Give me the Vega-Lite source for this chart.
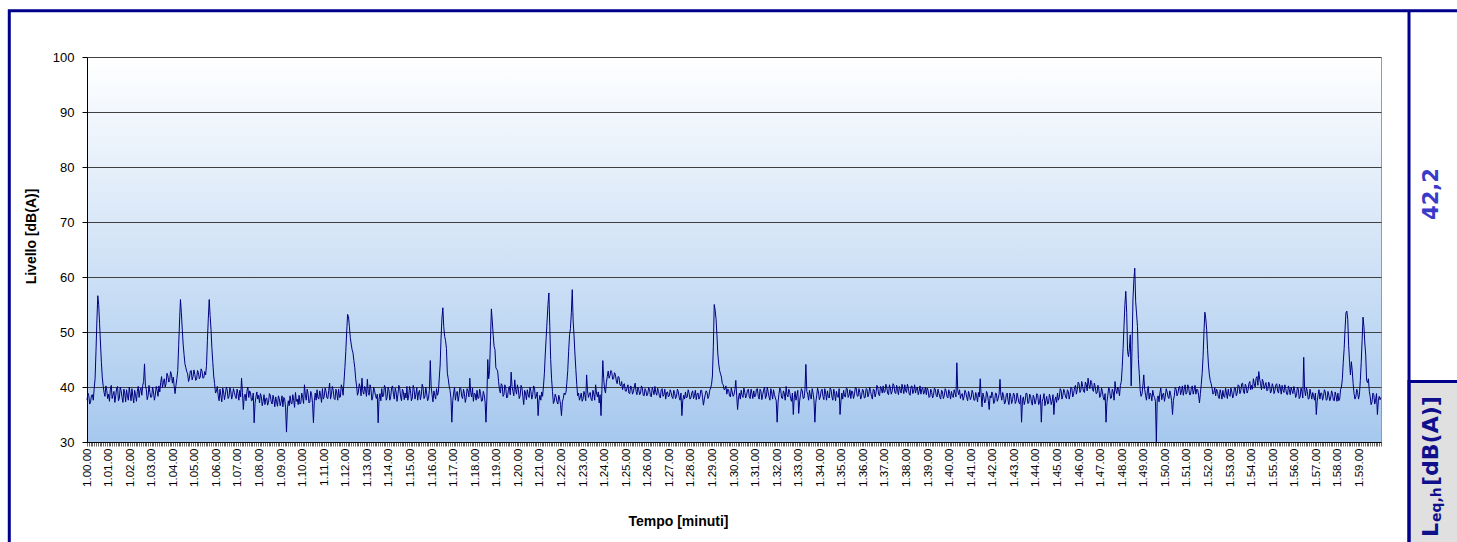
{
"$schema": "https://vega.github.io/schema/vega-lite/v6.json",
"width": 1294,
"height": 385,
"autosize": {"type": "none"},
"padding": {"left": 87, "top": 57, "right": 76, "bottom": 100},
"background": "#ffffff",
"config": {
  "font": "Liberation Sans",
  "view": {"stroke": "#9a9a9a", "strokeWidth": 1, "fill": {"gradient": "linear", "x1": 0, "y1": 0, "x2": 0, "y2": 1, "stops": [{"offset": 0, "color": "#ffffff"}, {"offset": 1, "color": "#a6c8ee"}]}}
},
"layer": [
{
"data": {"values": [
{"t":0,"v":37.6},{"t":5,"v":38.4},{"t":10,"v":37.3},{"t":15,"v":38.6},{"t":20,"v":39.8},{"t":25,"v":46.5},{"t":30,"v":56.6},{"t":35,"v":51.5},{"t":40,"v":44.5},{"t":45,"v":40.2},{"t":50,"v":38.3},{"t":55,"v":39.4},
{"t":60,"v":38.7},{"t":65,"v":39.6},{"t":70,"v":37.9},{"t":75,"v":39.2},{"t":80,"v":38.4},{"t":85,"v":40.1},{"t":90,"v":38.0},{"t":95,"v":39.3},{"t":100,"v":37.2},{"t":105,"v":38.9},{"t":110,"v":39.5},{"t":115,"v":37.6},
{"t":120,"v":38.8},{"t":125,"v":39.7},{"t":130,"v":37.1},{"t":135,"v":38.6},{"t":140,"v":39.2},{"t":145,"v":38.1},{"t":150,"v":39.8},{"t":155,"v":40.3},{"t":160,"v":44.2},{"t":165,"v":39.6},{"t":170,"v":38.4},{"t":175,"v":39.0},
{"t":180,"v":38.2},{"t":185,"v":39.1},{"t":190,"v":38.5},{"t":195,"v":39.4},{"t":200,"v":40.2},{"t":205,"v":40.8},{"t":210,"v":39.9},{"t":215,"v":41.5},{"t":220,"v":40.6},{"t":225,"v":42.0},{"t":230,"v":41.2},{"t":235,"v":42.3},
{"t":240,"v":41.8},{"t":245,"v":38.8},{"t":250,"v":41.5},{"t":255,"v":47.5},{"t":260,"v":55.9},{"t":265,"v":50.5},{"t":270,"v":45.9},{"t":275,"v":43.5},{"t":280,"v":42.4},{"t":285,"v":41.6},{"t":290,"v":43.0},{"t":295,"v":41.9},
{"t":300,"v":42.3},{"t":305,"v":41.4},{"t":310,"v":42.6},{"t":315,"v":41.8},{"t":320,"v":42.9},{"t":325,"v":41.7},{"t":330,"v":42.2},{"t":335,"v":48.5},{"t":340,"v":55.9},{"t":345,"v":50.5},{"t":350,"v":44.5},{"t":355,"v":40.6},
{"t":360,"v":39.2},{"t":365,"v":38.4},{"t":370,"v":39.6},{"t":375,"v":37.3},{"t":380,"v":39.1},{"t":385,"v":38.7},{"t":390,"v":39.5},{"t":395,"v":38.2},{"t":400,"v":39.3},{"t":405,"v":38.6},{"t":410,"v":39.0},{"t":415,"v":37.9},
{"t":420,"v":38.8},{"t":425,"v":39.4},{"t":430,"v":41.6},{"t":435,"v":35.9},{"t":440,"v":38.7},{"t":445,"v":39.2},{"t":450,"v":38.1},{"t":455,"v":38.9},{"t":460,"v":37.6},{"t":465,"v":33.5},{"t":470,"v":38.2},{"t":475,"v":37.8},
{"t":480,"v":37.1},{"t":485,"v":38.3},{"t":490,"v":37.4},{"t":495,"v":36.8},{"t":500,"v":38.0},{"t":505,"v":37.2},{"t":510,"v":38.5},{"t":515,"v":36.9},{"t":520,"v":37.7},{"t":525,"v":38.2},{"t":530,"v":36.5},{"t":535,"v":37.9},
{"t":540,"v":37.3},{"t":545,"v":36.4},{"t":550,"v":37.8},{"t":555,"v":31.8},{"t":560,"v":37.5},{"t":565,"v":38.4},{"t":570,"v":36.9},{"t":575,"v":37.6},{"t":580,"v":39.0},{"t":585,"v":37.8},{"t":590,"v":38.5},{"t":595,"v":37.2},
{"t":600,"v":38.1},{"t":605,"v":40.4},{"t":610,"v":37.6},{"t":615,"v":38.8},{"t":620,"v":37.3},{"t":625,"v":38.6},{"t":630,"v":33.5},{"t":635,"v":38.9},{"t":640,"v":39.5},{"t":645,"v":37.8},{"t":650,"v":38.4},{"t":655,"v":39.7},
{"t":660,"v":38.3},{"t":665,"v":39.2},{"t":670,"v":37.9},{"t":675,"v":40.7},{"t":680,"v":38.6},{"t":685,"v":39.4},{"t":690,"v":37.7},{"t":695,"v":38.9},{"t":700,"v":39.6},{"t":705,"v":38.2},{"t":710,"v":39.8},{"t":715,"v":41.0},
{"t":720,"v":46.5},{"t":725,"v":53.2},{"t":730,"v":51.0},{"t":735,"v":47.8},{"t":740,"v":46.2},{"t":745,"v":43.5},{"t":750,"v":40.2},{"t":755,"v":39.1},{"t":760,"v":40.0},{"t":765,"v":41.6},{"t":770,"v":38.7},{"t":775,"v":39.5},
{"t":780,"v":41.4},{"t":785,"v":38.5},{"t":790,"v":39.6},{"t":795,"v":38.2},{"t":800,"v":39.3},{"t":805,"v":37.9},{"t":810,"v":33.5},{"t":815,"v":38.8},{"t":820,"v":39.7},{"t":825,"v":38.4},{"t":830,"v":39.9},{"t":835,"v":38.1},
{"t":840,"v":39.5},{"t":845,"v":38.3},{"t":850,"v":40.2},{"t":855,"v":37.8},{"t":860,"v":39.1},{"t":865,"v":38.6},{"t":870,"v":39.8},{"t":875,"v":37.5},{"t":880,"v":39.2},{"t":885,"v":38.9},{"t":890,"v":40.1},{"t":895,"v":38.4},
{"t":900,"v":39.3},{"t":905,"v":38.0},{"t":910,"v":39.6},{"t":915,"v":38.7},{"t":920,"v":37.6},{"t":925,"v":39.4},{"t":930,"v":38.5},{"t":935,"v":39.9},{"t":940,"v":38.2},{"t":945,"v":38.9},{"t":950,"v":37.9},{"t":955,"v":44.8},
{"t":960,"v":38.6},{"t":965,"v":39.3},{"t":970,"v":37.8},{"t":975,"v":38.5},{"t":980,"v":41.6},{"t":985,"v":48.9},{"t":990,"v":54.4},{"t":995,"v":49.2},{"t":1000,"v":47.0},{"t":1005,"v":41.5},{"t":1010,"v":39.4},{"t":1015,"v":33.6},
{"t":1020,"v":38.9},{"t":1025,"v":37.6},{"t":1030,"v":39.2},{"t":1035,"v":38.4},{"t":1040,"v":39.7},{"t":1045,"v":37.9},{"t":1050,"v":38.8},{"t":1055,"v":38.1},{"t":1060,"v":39.3},{"t":1065,"v":41.6},{"t":1070,"v":38.2},{"t":1075,"v":37.4},
{"t":1080,"v":38.7},{"t":1085,"v":39.4},{"t":1090,"v":38.0},{"t":1095,"v":38.8},{"t":1100,"v":37.5},{"t":1105,"v":38.6},{"t":1110,"v":33.6},{"t":1115,"v":45.0},{"t":1120,"v":43.0},{"t":1125,"v":54.2},{"t":1130,"v":49.5},{"t":1135,"v":46.8},
{"t":1140,"v":43.2},{"t":1145,"v":41.0},{"t":1150,"v":38.9},{"t":1155,"v":40.3},{"t":1160,"v":38.6},{"t":1165,"v":39.8},{"t":1170,"v":38.2},{"t":1175,"v":40.1},{"t":1180,"v":42.7},{"t":1185,"v":39.2},{"t":1190,"v":41.3},{"t":1195,"v":38.7},
{"t":1200,"v":39.6},{"t":1205,"v":38.4},{"t":1210,"v":39.9},{"t":1215,"v":36.8},{"t":1220,"v":38.9},{"t":1225,"v":39.5},{"t":1230,"v":38.1},{"t":1235,"v":39.2},{"t":1240,"v":38.6},{"t":1245,"v":39.8},{"t":1250,"v":38.3},{"t":1255,"v":34.8},
{"t":1260,"v":38.5},{"t":1265,"v":39.1},{"t":1270,"v":40.2},{"t":1275,"v":46.0},{"t":1280,"v":52.0},{"t":1285,"v":57.1},{"t":1290,"v":45.0},{"t":1295,"v":39.2},{"t":1300,"v":37.4},{"t":1305,"v":38.2},{"t":1310,"v":36.9},{"t":1315,"v":37.8},
{"t":1320,"v":34.8},{"t":1325,"v":37.9},{"t":1330,"v":38.6},{"t":1335,"v":40.8},{"t":1340,"v":46.5},{"t":1345,"v":50.6},{"t":1350,"v":57.7},{"t":1355,"v":49.3},{"t":1360,"v":43.2},{"t":1365,"v":38.4},{"t":1370,"v":37.6},{"t":1375,"v":38.9},
{"t":1380,"v":37.8},{"t":1385,"v":38.6},{"t":1390,"v":42.2},{"t":1395,"v":38.1},{"t":1400,"v":39.0},{"t":1405,"v":37.5},{"t":1410,"v":38.7},{"t":1415,"v":40.4},{"t":1420,"v":38.2},{"t":1425,"v":37.1},{"t":1430,"v":34.8},{"t":1435,"v":44.8},
{"t":1440,"v":39.6},{"t":1445,"v":40.8},{"t":1450,"v":42.9},{"t":1455,"v":42.1},{"t":1460,"v":42.6},{"t":1465,"v":41.5},{"t":1470,"v":42.3},{"t":1475,"v":40.6},{"t":1480,"v":41.8},{"t":1485,"v":40.2},{"t":1490,"v":39.5},{"t":1495,"v":40.6},
{"t":1500,"v":39.2},{"t":1505,"v":40.4},{"t":1510,"v":38.8},{"t":1515,"v":39.9},{"t":1520,"v":39.1},{"t":1525,"v":40.7},{"t":1530,"v":38.6},{"t":1535,"v":39.5},{"t":1540,"v":38.9},{"t":1545,"v":39.8},{"t":1550,"v":38.4},{"t":1555,"v":39.3},
{"t":1560,"v":38.7},{"t":1565,"v":39.6},{"t":1570,"v":38.2},{"t":1575,"v":39.4},{"t":1580,"v":40.1},{"t":1585,"v":38.5},{"t":1590,"v":39.2},{"t":1595,"v":38.0},{"t":1600,"v":39.7},{"t":1605,"v":38.6},{"t":1610,"v":37.8},{"t":1615,"v":39.1},
{"t":1620,"v":38.4},{"t":1625,"v":39.0},{"t":1630,"v":37.9},{"t":1635,"v":38.8},{"t":1640,"v":38.3},{"t":1645,"v":39.2},{"t":1650,"v":37.6},{"t":1655,"v":34.8},{"t":1660,"v":38.5},{"t":1665,"v":39.1},{"t":1670,"v":38.2},{"t":1675,"v":38.9},
{"t":1680,"v":38.0},{"t":1685,"v":39.3},{"t":1690,"v":38.5},{"t":1695,"v":37.7},{"t":1700,"v":38.9},{"t":1705,"v":38.2},{"t":1710,"v":39.4},{"t":1715,"v":36.7},{"t":1720,"v":38.6},{"t":1725,"v":39.0},{"t":1730,"v":38.3},{"t":1735,"v":39.8},
{"t":1740,"v":42.0},{"t":1745,"v":55.0},{"t":1750,"v":52.4},{"t":1755,"v":46.0},{"t":1760,"v":43.0},{"t":1765,"v":41.8},{"t":1770,"v":40.4},{"t":1775,"v":39.6},{"t":1780,"v":38.7},{"t":1785,"v":39.5},{"t":1790,"v":38.2},{"t":1795,"v":39.1},
{"t":1800,"v":38.6},{"t":1805,"v":41.2},{"t":1810,"v":35.9},{"t":1815,"v":38.9},{"t":1820,"v":39.4},{"t":1825,"v":38.1},{"t":1830,"v":39.0},{"t":1835,"v":38.5},{"t":1840,"v":39.6},{"t":1845,"v":37.9},{"t":1850,"v":38.8},{"t":1855,"v":39.3},
{"t":1860,"v":38.4},{"t":1865,"v":39.7},{"t":1870,"v":37.8},{"t":1875,"v":39.2},{"t":1880,"v":38.6},{"t":1885,"v":40.0},{"t":1890,"v":38.3},{"t":1895,"v":39.1},{"t":1900,"v":37.6},{"t":1905,"v":38.9},{"t":1910,"v":39.5},{"t":1915,"v":38.0},
{"t":1920,"v":33.6},{"t":1925,"v":38.7},{"t":1930,"v":39.4},{"t":1935,"v":37.9},{"t":1940,"v":38.8},{"t":1945,"v":40.1},{"t":1950,"v":38.2},{"t":1955,"v":39.0},{"t":1960,"v":37.4},{"t":1965,"v":35.0},{"t":1970,"v":39.2},{"t":1975,"v":38.5},
{"t":1980,"v":35.2},{"t":1985,"v":38.6},{"t":1990,"v":39.3},{"t":1995,"v":38.0},{"t":2000,"v":44.1},{"t":2005,"v":38.7},{"t":2010,"v":39.4},{"t":2015,"v":37.8},{"t":2020,"v":38.9},{"t":2025,"v":33.6},{"t":2030,"v":38.4},{"t":2035,"v":39.1},
{"t":2040,"v":38.2},{"t":2045,"v":39.6},{"t":2050,"v":37.7},{"t":2055,"v":38.9},{"t":2060,"v":39.3},{"t":2065,"v":38.0},{"t":2070,"v":39.5},{"t":2075,"v":37.6},{"t":2080,"v":38.8},{"t":2085,"v":39.2},{"t":2090,"v":38.1},{"t":2095,"v":35.0},
{"t":2100,"v":38.9},{"t":2105,"v":39.4},{"t":2110,"v":38.2},{"t":2115,"v":39.7},{"t":2120,"v":38.5},{"t":2125,"v":37.9},{"t":2130,"v":39.1},{"t":2135,"v":38.6},{"t":2140,"v":39.8},{"t":2145,"v":38.3},{"t":2150,"v":39.0},{"t":2155,"v":38.4},
{"t":2160,"v":39.3},{"t":2165,"v":38.1},{"t":2170,"v":39.6},{"t":2175,"v":38.7},{"t":2180,"v":39.2},{"t":2185,"v":37.8},{"t":2190,"v":39.5},{"t":2195,"v":38.9},{"t":2200,"v":39.9},{"t":2205,"v":38.4},{"t":2210,"v":39.7},{"t":2215,"v":40.2},
{"t":2220,"v":39.1},{"t":2225,"v":40.0},{"t":2230,"v":38.6},{"t":2235,"v":39.8},{"t":2240,"v":39.2},{"t":2245,"v":40.3},{"t":2250,"v":38.8},{"t":2255,"v":39.5},{"t":2260,"v":40.1},{"t":2265,"v":38.9},{"t":2270,"v":39.6},{"t":2275,"v":40.4},
{"t":2280,"v":39.0},{"t":2285,"v":39.8},{"t":2290,"v":38.5},{"t":2295,"v":40.2},{"t":2300,"v":39.3},{"t":2305,"v":38.9},{"t":2310,"v":40.0},{"t":2315,"v":39.2},{"t":2320,"v":38.7},{"t":2325,"v":39.9},{"t":2330,"v":39.1},{"t":2335,"v":38.6},
{"t":2340,"v":39.4},{"t":2345,"v":38.3},{"t":2350,"v":39.0},{"t":2355,"v":38.5},{"t":2360,"v":39.6},{"t":2365,"v":38.2},{"t":2370,"v":38.9},{"t":2375,"v":37.8},{"t":2380,"v":39.1},{"t":2385,"v":38.4},{"t":2390,"v":39.3},{"t":2395,"v":38.0},
{"t":2400,"v":38.8},{"t":2405,"v":39.2},{"t":2410,"v":38.1},{"t":2415,"v":38.9},{"t":2420,"v":44.4},{"t":2425,"v":38.6},{"t":2430,"v":37.9},{"t":2435,"v":38.8},{"t":2440,"v":38.2},{"t":2445,"v":39.0},{"t":2450,"v":37.5},{"t":2455,"v":38.6},
{"t":2460,"v":38.1},{"t":2465,"v":38.9},{"t":2470,"v":37.6},{"t":2475,"v":38.4},{"t":2480,"v":39.0},{"t":2485,"v":41.5},{"t":2490,"v":36.4},{"t":2495,"v":38.2},{"t":2500,"v":37.4},{"t":2505,"v":38.7},{"t":2510,"v":35.9},{"t":2515,"v":38.0},
{"t":2520,"v":38.5},{"t":2525,"v":37.3},{"t":2530,"v":38.8},{"t":2535,"v":37.9},{"t":2540,"v":41.4},{"t":2545,"v":37.6},{"t":2550,"v":38.4},{"t":2555,"v":37.2},{"t":2560,"v":38.9},{"t":2565,"v":36.8},{"t":2570,"v":38.3},{"t":2575,"v":37.7},
{"t":2580,"v":38.6},{"t":2585,"v":37.4},{"t":2590,"v":38.1},{"t":2595,"v":36.9},{"t":2600,"v":33.6},{"t":2605,"v":38.2},{"t":2610,"v":37.5},{"t":2615,"v":38.8},{"t":2620,"v":37.1},{"t":2625,"v":38.4},{"t":2630,"v":36.7},{"t":2635,"v":38.0},
{"t":2640,"v":37.6},{"t":2645,"v":38.5},{"t":2650,"v":37.2},{"t":2655,"v":33.6},{"t":2660,"v":37.9},{"t":2665,"v":36.6},{"t":2670,"v":38.3},{"t":2675,"v":37.0},{"t":2680,"v":38.1},{"t":2685,"v":37.4},{"t":2690,"v":35.0},{"t":2695,"v":38.2},
{"t":2700,"v":38.9},{"t":2705,"v":38.1},{"t":2710,"v":39.4},{"t":2715,"v":38.5},{"t":2720,"v":39.0},{"t":2725,"v":37.9},{"t":2730,"v":39.2},{"t":2735,"v":38.6},{"t":2740,"v":39.7},{"t":2745,"v":38.8},{"t":2750,"v":40.3},{"t":2755,"v":39.5},
{"t":2760,"v":40.6},{"t":2765,"v":39.4},{"t":2770,"v":40.1},{"t":2775,"v":39.0},{"t":2780,"v":40.5},{"t":2785,"v":41.6},{"t":2790,"v":39.7},{"t":2795,"v":40.8},{"t":2800,"v":39.2},{"t":2805,"v":40.0},{"t":2810,"v":38.9},{"t":2815,"v":39.6},
{"t":2820,"v":38.4},{"t":2825,"v":39.2},{"t":2830,"v":37.6},{"t":2835,"v":33.6},{"t":2840,"v":38.5},{"t":2845,"v":39.4},{"t":2850,"v":38.0},{"t":2855,"v":39.1},{"t":2860,"v":41.0},{"t":2865,"v":38.8},{"t":2870,"v":39.5},{"t":2875,"v":40.3},
{"t":2880,"v":43.5},{"t":2885,"v":51.0},{"t":2890,"v":57.4},{"t":2895,"v":46.5},{"t":2900,"v":47.0},{"t":2905,"v":40.2},{"t":2910,"v":56.0},{"t":2915,"v":61.6},{"t":2920,"v":53.3},{"t":2925,"v":45.0},{"t":2930,"v":39.4},{"t":2935,"v":38.7},
{"t":2940,"v":42.2},{"t":2945,"v":38.5},{"t":2950,"v":39.3},{"t":2955,"v":37.8},{"t":2960,"v":38.6},{"t":2965,"v":39.4},{"t":2970,"v":38.1},{"t":2975,"v":30.0},{"t":2980,"v":38.4},{"t":2985,"v":39.0},{"t":2990,"v":37.7},{"t":2995,"v":38.9},
{"t":3000,"v":38.3},{"t":3005,"v":39.1},{"t":3010,"v":37.9},{"t":3015,"v":38.6},{"t":3020,"v":35.0},{"t":3025,"v":38.4},{"t":3030,"v":39.6},{"t":3035,"v":38.8},{"t":3040,"v":40.1},{"t":3045,"v":39.3},{"t":3050,"v":38.5},{"t":3055,"v":40.4},
{"t":3060,"v":39.0},{"t":3065,"v":39.8},{"t":3070,"v":38.6},{"t":3075,"v":40.2},{"t":3080,"v":39.4},{"t":3085,"v":38.7},{"t":3090,"v":39.5},{"t":3095,"v":37.1},{"t":3100,"v":40.5},{"t":3105,"v":45.5},{"t":3110,"v":53.6},{"t":3115,"v":50.4},
{"t":3120,"v":44.0},{"t":3125,"v":41.2},{"t":3130,"v":39.8},{"t":3135,"v":39.0},{"t":3140,"v":38.4},{"t":3145,"v":39.2},{"t":3150,"v":37.9},{"t":3155,"v":38.8},{"t":3160,"v":39.4},{"t":3165,"v":38.1},{"t":3170,"v":38.9},{"t":3175,"v":39.6},
{"t":3180,"v":38.3},{"t":3185,"v":39.1},{"t":3190,"v":38.6},{"t":3195,"v":39.8},{"t":3200,"v":38.9},{"t":3205,"v":40.2},{"t":3210,"v":39.3},{"t":3215,"v":40.7},{"t":3220,"v":38.8},{"t":3225,"v":40.1},{"t":3230,"v":39.4},{"t":3235,"v":41.0},
{"t":3240,"v":40.3},{"t":3245,"v":41.5},{"t":3250,"v":40.0},{"t":3255,"v":41.9},{"t":3260,"v":42.8},{"t":3265,"v":40.6},{"t":3270,"v":41.4},{"t":3275,"v":39.7},{"t":3280,"v":40.8},{"t":3285,"v":39.5},{"t":3290,"v":40.4},{"t":3295,"v":39.2},
{"t":3300,"v":40.1},{"t":3305,"v":39.4},{"t":3310,"v":40.6},{"t":3315,"v":38.9},{"t":3320,"v":39.8},{"t":3325,"v":40.3},{"t":3330,"v":39.0},{"t":3335,"v":39.7},{"t":3340,"v":38.6},{"t":3345,"v":39.5},{"t":3350,"v":40.0},{"t":3355,"v":38.8},
{"t":3360,"v":39.3},{"t":3365,"v":38.5},{"t":3370,"v":39.6},{"t":3375,"v":38.2},{"t":3380,"v":39.1},{"t":3385,"v":45.4},{"t":3390,"v":38.4},{"t":3395,"v":39.2},{"t":3400,"v":37.9},{"t":3405,"v":38.7},{"t":3410,"v":39.0},{"t":3415,"v":37.6},
{"t":3420,"v":35.0},{"t":3425,"v":38.6},{"t":3430,"v":37.8},{"t":3435,"v":38.9},{"t":3440,"v":38.3},{"t":3445,"v":39.1},{"t":3450,"v":37.7},{"t":3455,"v":38.5},{"t":3460,"v":38.0},{"t":3465,"v":38.8},{"t":3470,"v":37.5},{"t":3475,"v":38.4},
{"t":3480,"v":38.9},{"t":3485,"v":37.8},{"t":3490,"v":40.0},{"t":3495,"v":44.5},{"t":3500,"v":50.5},{"t":3505,"v":53.8},{"t":3510,"v":47.5},{"t":3515,"v":42.2},{"t":3520,"v":43.0},{"t":3525,"v":38.8},{"t":3530,"v":38.2},{"t":3535,"v":39.0},
{"t":3540,"v":38.6},{"t":3545,"v":44.5},{"t":3550,"v":52.7},{"t":3555,"v":48.0},{"t":3560,"v":41.2},{"t":3565,"v":41.5},{"t":3570,"v":38.2},{"t":3575,"v":37.3},{"t":3580,"v":38.6},{"t":3585,"v":37.6},{"t":3590,"v":35.0},{"t":3595,"v":38.3},
{"t":3600,"v":38.1},
{"t":2.5,"v":38.9},{"t":7.5,"v":36.9},{"t":12.5,"v":38.5},{"t":17.5,"v":37.6},{"t":22.5,"v":41.5},{"t":27.5,"v":52.0},{"t":32.5,"v":55.0},{"t":37.5,"v":48.0},{"t":42.5,"v":41.8},{"t":47.5,"v":39.0},{"t":52.5,"v":40.2},{"t":57.5,"v":37.9},
{"t":62.5,"v":37.4},{"t":67.5,"v":40.3},{"t":72.5,"v":38.6},{"t":77.5,"v":37.2},{"t":82.5,"v":39.8},{"t":87.5,"v":37.5},{"t":92.5,"v":40.0},{"t":97.5,"v":38.1},{"t":102.5,"v":39.6},{"t":107.5,"v":37.3},{"t":112.5,"v":38.4},{"t":117.5,"v":40.0},
{"t":122.5,"v":37.5},{"t":127.5,"v":38.3},{"t":132.5,"v":39.4},{"t":137.5,"v":37.4},{"t":142.5,"v":40.1},{"t":147.5,"v":39.4},{"t":152.5,"v":38.5},{"t":157.5,"v":41.0},{"t":162.5,"v":40.2},{"t":167.5,"v":37.7},{"t":172.5,"v":40.3},{"t":177.5,"v":38.1},
{"t":182.5,"v":40.0},{"t":187.5,"v":37.6},{"t":192.5,"v":40.1},{"t":197.5,"v":38.3},{"t":202.5,"v":39.1},{"t":207.5,"v":41.9},{"t":212.5,"v":40.8},{"t":217.5,"v":40.0},{"t":222.5,"v":42.5},{"t":227.5,"v":40.9},{"t":232.5,"v":42.8},{"t":237.5,"v":40.7},
{"t":242.5,"v":40.2},{"t":247.5,"v":40.3},{"t":252.5,"v":43.0},{"t":257.5,"v":52.0},{"t":262.5,"v":53.5},{"t":267.5,"v":47.8},{"t":272.5,"v":44.2},{"t":277.5,"v":42.8},{"t":282.5,"v":41.0},{"t":287.5,"v":42.9},{"t":292.5,"v":41.3},{"t":297.5,"v":43.1},
{"t":302.5,"v":41.2},{"t":307.5,"v":43.0},{"t":312.5,"v":41.5},{"t":317.5,"v":43.3},{"t":322.5,"v":41.6},{"t":327.5,"v":42.8},{"t":332.5,"v":43.9},{"t":337.5,"v":52.5},{"t":342.5,"v":53.0},{"t":347.5,"v":47.0},{"t":352.5,"v":42.0},{"t":357.5,"v":38.9},
{"t":362.5,"v":40.1},{"t":367.5,"v":37.5},{"t":372.5,"v":38.4},{"t":377.5,"v":39.8},{"t":382.5,"v":37.7},{"t":387.5,"v":40.0},{"t":392.5,"v":37.9},{"t":397.5,"v":39.9},{"t":402.5,"v":37.8},{"t":407.5,"v":39.7},{"t":412.5,"v":38.3},{"t":417.5,"v":39.6},
{"t":422.5,"v":37.6},{"t":427.5,"v":38.2},{"t":432.5,"v":39.0},{"t":437.5,"v":38.4},{"t":442.5,"v":37.5},{"t":447.5,"v":40.0},{"t":452.5,"v":39.3},{"t":457.5,"v":37.5},{"t":462.5,"v":38.9},{"t":467.5,"v":37.0},{"t":472.5,"v":39.1},{"t":477.5,"v":38.5},
{"t":482.5,"v":38.8},{"t":487.5,"v":36.6},{"t":492.5,"v":38.6},{"t":497.5,"v":37.9},{"t":502.5,"v":36.7},{"t":507.5,"v":38.8},{"t":512.5,"v":37.3},{"t":517.5,"v":38.5},{"t":522.5,"v":36.4},{"t":527.5,"v":37.3},{"t":532.5,"v":38.4},{"t":537.5,"v":36.6},
{"t":542.5,"v":38.4},{"t":547.5,"v":38.1},{"t":552.5,"v":36.2},{"t":557.5,"v":36.0},{"t":562.5,"v":36.6},{"t":567.5,"v":37.1},{"t":572.5,"v":38.6},{"t":577.5,"v":36.3},{"t":582.5,"v":37.4},{"t":587.5,"v":36.8},{"t":592.5,"v":36.9},{"t":597.5,"v":38.9},
{"t":602.5,"v":37.0},{"t":607.5,"v":38.5},{"t":612.5,"v":39.6},{"t":617.5,"v":37.1},{"t":622.5,"v":39.2},{"t":627.5,"v":37.0},{"t":632.5,"v":37.5},{"t":637.5,"v":37.6},{"t":642.5,"v":38.0},{"t":647.5,"v":39.3},{"t":652.5,"v":37.2},{"t":657.5,"v":37.8},
{"t":662.5,"v":39.8},{"t":667.5,"v":38.0},{"t":672.5,"v":39.4},{"t":677.5,"v":37.8},{"t":682.5,"v":40.1},{"t":687.5,"v":37.9},{"t":692.5,"v":39.6},{"t":697.5,"v":37.6},{"t":702.5,"v":38.1},{"t":707.5,"v":40.4},{"t":712.5,"v":38.5},{"t":717.5,"v":43.5},
{"t":722.5,"v":50.0},{"t":727.5,"v":52.8},{"t":732.5,"v":49.0},{"t":737.5,"v":46.8},{"t":742.5,"v":44.8},{"t":747.5,"v":41.5},{"t":752.5,"v":38.5},{"t":757.5,"v":40.6},{"t":762.5,"v":38.4},{"t":767.5,"v":39.2},{"t":772.5,"v":40.1},{"t":777.5,"v":38.3},
{"t":782.5,"v":39.0},{"t":787.5,"v":40.4},{"t":792.5,"v":37.6},{"t":797.5,"v":40.0},{"t":802.5,"v":38.5},{"t":807.5,"v":38.7},{"t":812.5,"v":37.8},{"t":817.5,"v":37.5},{"t":822.5,"v":38.2},{"t":827.5,"v":40.3},{"t":832.5,"v":37.6},{"t":837.5,"v":40.0},
{"t":842.5,"v":37.6},{"t":847.5,"v":39.9},{"t":852.5,"v":38.7},{"t":857.5,"v":39.8},{"t":862.5,"v":37.4},{"t":867.5,"v":40.3},{"t":872.5,"v":38.2},{"t":877.5,"v":39.6},{"t":882.5,"v":37.7},{"t":887.5,"v":38.0},{"t":892.5,"v":37.6},{"t":897.5,"v":40.1},
{"t":902.5,"v":37.5},{"t":907.5,"v":40.3},{"t":912.5,"v":37.8},{"t":917.5,"v":39.9},{"t":922.5,"v":38.9},{"t":927.5,"v":37.7},{"t":932.5,"v":40.5},{"t":937.5,"v":37.9},{"t":942.5,"v":40.0},{"t":947.5,"v":37.5},{"t":952.5,"v":39.4},{"t":957.5,"v":40.0},
{"t":962.5,"v":37.3},{"t":967.5,"v":38.5},{"t":972.5,"v":39.7},{"t":977.5,"v":39.0},{"t":982.5,"v":44.0},{"t":987.5,"v":52.5},{"t":992.5,"v":51.0},{"t":997.5,"v":48.5},{"t":1002.5,"v":42.5},{"t":1007.5,"v":40.2},{"t":1012.5,"v":38.0},{"t":1017.5,"v":37.5},
{"t":1022.5,"v":40.0},{"t":1027.5,"v":38.8},{"t":1032.5,"v":37.4},{"t":1037.5,"v":39.9},{"t":1042.5,"v":38.3},{"t":1047.5,"v":39.6},{"t":1052.5,"v":37.2},{"t":1057.5,"v":39.7},{"t":1062.5,"v":38.2},{"t":1067.5,"v":39.0},{"t":1072.5,"v":39.8},{"t":1077.5,"v":38.9},
{"t":1082.5,"v":37.6},{"t":1087.5,"v":37.9},{"t":1092.5,"v":39.6},{"t":1097.5,"v":37.4},{"t":1102.5,"v":39.2},{"t":1107.5,"v":37.3},{"t":1112.5,"v":38.0},{"t":1117.5,"v":41.5},{"t":1122.5,"v":48.5},{"t":1127.5,"v":52.0},{"t":1132.5,"v":47.4},{"t":1137.5,"v":43.5},
{"t":1142.5,"v":42.9},{"t":1147.5,"v":39.5},{"t":1152.5,"v":40.6},{"t":1157.5,"v":38.3},{"t":1162.5,"v":40.4},{"t":1167.5,"v":38.0},{"t":1172.5,"v":39.6},{"t":1177.5,"v":38.6},{"t":1182.5,"v":40.1},{"t":1187.5,"v":38.4},{"t":1192.5,"v":39.5},{"t":1197.5,"v":40.4},
{"t":1202.5,"v":37.9},{"t":1207.5,"v":40.3},{"t":1212.5,"v":38.3},{"t":1217.5,"v":39.4},{"t":1222.5,"v":37.7},{"t":1227.5,"v":38.6},{"t":1232.5,"v":40.0},{"t":1237.5,"v":37.8},{"t":1242.5,"v":40.2},{"t":1247.5,"v":37.9},{"t":1252.5,"v":39.1},{"t":1257.5,"v":37.5},
{"t":1262.5,"v":37.6},{"t":1267.5,"v":38.3},{"t":1272.5,"v":42.5},{"t":1277.5,"v":49.0},{"t":1282.5,"v":55.0},{"t":1287.5,"v":51.0},{"t":1292.5,"v":41.5},{"t":1297.5,"v":37.0},{"t":1302.5,"v":38.7},{"t":1307.5,"v":37.3},{"t":1312.5,"v":38.5},{"t":1317.5,"v":36.8},
{"t":1322.5,"v":37.3},{"t":1327.5,"v":38.9},{"t":1332.5,"v":39.0},{"t":1337.5,"v":43.0},{"t":1342.5,"v":49.5},{"t":1347.5,"v":53.5},{"t":1352.5,"v":52.0},{"t":1357.5,"v":46.0},{"t":1362.5,"v":40.5},{"t":1367.5,"v":38.9},{"t":1372.5,"v":38.2},{"t":1377.5,"v":37.4},
{"t":1382.5,"v":39.2},{"t":1387.5,"v":37.5},{"t":1392.5,"v":39.3},{"t":1397.5,"v":38.7},{"t":1402.5,"v":37.8},{"t":1407.5,"v":39.4},{"t":1412.5,"v":37.6},{"t":1417.5,"v":38.9},{"t":1422.5,"v":39.1},{"t":1427.5,"v":38.6},{"t":1432.5,"v":39.5},{"t":1437.5,"v":41.5},
{"t":1442.5,"v":38.9},{"t":1447.5,"v":41.9},{"t":1452.5,"v":41.6},{"t":1457.5,"v":43.0},{"t":1462.5,"v":41.4},{"t":1467.5,"v":42.6},{"t":1472.5,"v":41.1},{"t":1477.5,"v":41.9},{"t":1482.5,"v":40.4},{"t":1487.5,"v":41.0},{"t":1492.5,"v":40.4},{"t":1497.5,"v":39.3},
{"t":1502.5,"v":39.9},{"t":1507.5,"v":38.9},{"t":1512.5,"v":40.2},{"t":1517.5,"v":38.7},{"t":1522.5,"v":40.0},{"t":1527.5,"v":39.2},{"t":1532.5,"v":40.0},{"t":1537.5,"v":38.6},{"t":1542.5,"v":40.2},{"t":1547.5,"v":38.5},{"t":1552.5,"v":39.7},{"t":1557.5,"v":38.4},
{"t":1562.5,"v":39.9},{"t":1567.5,"v":38.4},{"t":1572.5,"v":39.9},{"t":1577.5,"v":38.6},{"t":1582.5,"v":39.0},{"t":1587.5,"v":39.8},{"t":1592.5,"v":38.4},{"t":1597.5,"v":39.5},{"t":1602.5,"v":38.3},{"t":1607.5,"v":39.6},{"t":1612.5,"v":39.0},{"t":1617.5,"v":38.2},
{"t":1622.5,"v":39.5},{"t":1627.5,"v":38.2},{"t":1632.5,"v":39.4},{"t":1637.5,"v":37.9},{"t":1642.5,"v":39.6},{"t":1647.5,"v":38.1},{"t":1652.5,"v":38.9},{"t":1657.5,"v":37.5},{"t":1662.5,"v":37.8},{"t":1667.5,"v":38.0},{"t":1672.5,"v":39.5},{"t":1677.5,"v":37.8},
{"t":1682.5,"v":38.9},{"t":1687.5,"v":37.9},{"t":1692.5,"v":39.4},{"t":1697.5,"v":38.8},{"t":1702.5,"v":37.8},{"t":1707.5,"v":39.4},{"t":1712.5,"v":38.1},{"t":1717.5,"v":37.8},{"t":1722.5,"v":39.3},{"t":1727.5,"v":37.9},{"t":1732.5,"v":39.4},{"t":1737.5,"v":40.5},
{"t":1742.5,"v":47.3},{"t":1747.5,"v":54.0},{"t":1752.5,"v":49.5},{"t":1757.5,"v":44.2},{"t":1762.5,"v":42.4},{"t":1767.5,"v":40.6},{"t":1772.5,"v":39.5},{"t":1777.5,"v":40.2},{"t":1782.5,"v":39.6},{"t":1787.5,"v":38.4},{"t":1792.5,"v":39.8},{"t":1797.5,"v":38.3},
{"t":1802.5,"v":39.5},{"t":1807.5,"v":38.4},{"t":1812.5,"v":38.0},{"t":1817.5,"v":37.8},{"t":1822.5,"v":38.5},{"t":1827.5,"v":39.8},{"t":1832.5,"v":38.0},{"t":1837.5,"v":39.4},{"t":1842.5,"v":38.2},{"t":1847.5,"v":39.6},{"t":1852.5,"v":37.9},{"t":1857.5,"v":38.2},
{"t":1862.5,"v":39.6},{"t":1867.5,"v":38.3},{"t":1872.5,"v":39.6},{"t":1877.5,"v":37.7},{"t":1882.5,"v":39.5},{"t":1887.5,"v":37.9},{"t":1892.5,"v":40.0},{"t":1897.5,"v":38.2},{"t":1902.5,"v":39.7},{"t":1907.5,"v":37.8},{"t":1912.5,"v":38.6},{"t":1917.5,"v":37.5},
{"t":1922.5,"v":37.2},{"t":1927.5,"v":39.8},{"t":1932.5,"v":38.0},{"t":1937.5,"v":39.3},{"t":1942.5,"v":37.6},{"t":1947.5,"v":38.6},{"t":1952.5,"v":39.6},{"t":1957.5,"v":37.9},{"t":1962.5,"v":38.9},{"t":1967.5,"v":38.0},{"t":1972.5,"v":37.6},{"t":1977.5,"v":39.4},
{"t":1982.5,"v":37.4},{"t":1987.5,"v":39.7},{"t":1992.5,"v":37.9},{"t":1997.5,"v":39.6},{"t":2002.5,"v":39.2},{"t":2007.5,"v":37.6},{"t":2012.5,"v":38.3},{"t":2017.5,"v":39.7},{"t":2022.5,"v":37.6},{"t":2027.5,"v":37.2},{"t":2032.5,"v":39.8},{"t":2037.5,"v":37.7},
{"t":2042.5,"v":39.3},{"t":2047.5,"v":38.3},{"t":2052.5,"v":39.7},{"t":2057.5,"v":37.6},{"t":2062.5,"v":38.2},{"t":2067.5,"v":39.8},{"t":2072.5,"v":38.2},{"t":2077.5,"v":39.6},{"t":2082.5,"v":37.5},{"t":2087.5,"v":38.3},{"t":2092.5,"v":39.7},{"t":2097.5,"v":37.4},
{"t":2102.5,"v":37.8},{"t":2107.5,"v":38.3},{"t":2112.5,"v":39.8},{"t":2117.5,"v":38.1},{"t":2122.5,"v":39.5},{"t":2127.5,"v":39.3},{"t":2132.5,"v":37.9},{"t":2137.5,"v":39.9},{"t":2142.5,"v":38.4},{"t":2147.5,"v":39.7},{"t":2152.5,"v":37.8},{"t":2157.5,"v":39.6},
{"t":2162.5,"v":38.0},{"t":2167.5,"v":39.7},{"t":2172.5,"v":38.2},{"t":2177.5,"v":40.0},{"t":2182.5,"v":38.3},{"t":2187.5,"v":39.6},{"t":2192.5,"v":38.2},{"t":2197.5,"v":40.3},{"t":2202.5,"v":38.6},{"t":2207.5,"v":40.1},{"t":2212.5,"v":38.9},{"t":2217.5,"v":39.0},
{"t":2222.5,"v":40.5},{"t":2227.5,"v":38.8},{"t":2232.5,"v":40.4},{"t":2237.5,"v":38.7},{"t":2242.5,"v":40.6},{"t":2247.5,"v":39.0},{"t":2252.5,"v":40.3},{"t":2257.5,"v":38.6},{"t":2262.5,"v":39.4},{"t":2267.5,"v":40.5},{"t":2272.5,"v":38.8},{"t":2277.5,"v":39.3},
{"t":2282.5,"v":40.5},{"t":2287.5,"v":38.7},{"t":2292.5,"v":40.1},{"t":2297.5,"v":38.8},{"t":2302.5,"v":40.4},{"t":2307.5,"v":39.7},{"t":2312.5,"v":38.6},{"t":2317.5,"v":40.2},{"t":2322.5,"v":39.6},{"t":2327.5,"v":38.7},{"t":2332.5,"v":40.0},{"t":2337.5,"v":39.8},
{"t":2342.5,"v":38.1},{"t":2347.5,"v":39.6},{"t":2352.5,"v":38.0},{"t":2357.5,"v":39.8},{"t":2362.5,"v":38.5},{"t":2367.5,"v":39.6},{"t":2372.5,"v":38.2},{"t":2377.5,"v":39.4},{"t":2382.5,"v":37.9},{"t":2387.5,"v":39.7},{"t":2392.5,"v":38.3},{"t":2397.5,"v":39.5},
{"t":2402.5,"v":37.8},{"t":2407.5,"v":38.4},{"t":2412.5,"v":39.5},{"t":2417.5,"v":38.2},{"t":2422.5,"v":39.3},{"t":2427.5,"v":39.5},{"t":2432.5,"v":38.6},{"t":2437.5,"v":37.6},{"t":2442.5,"v":39.4},{"t":2447.5,"v":38.1},{"t":2452.5,"v":39.2},{"t":2457.5,"v":37.7},
{"t":2462.5,"v":39.4},{"t":2467.5,"v":37.6},{"t":2472.5,"v":39.0},{"t":2477.5,"v":37.3},{"t":2482.5,"v":38.2},{"t":2487.5,"v":38.6},{"t":2492.5,"v":38.9},{"t":2497.5,"v":37.1},{"t":2502.5,"v":39.2},{"t":2507.5,"v":37.5},{"t":2512.5,"v":38.4},{"t":2517.5,"v":39.1},
{"t":2522.5,"v":37.0},{"t":2527.5,"v":38.9},{"t":2532.5,"v":37.4},{"t":2537.5,"v":38.7},{"t":2542.5,"v":38.5},{"t":2547.5,"v":39.0},{"t":2552.5,"v":36.9},{"t":2557.5,"v":38.6},{"t":2562.5,"v":37.5},{"t":2567.5,"v":38.9},{"t":2572.5,"v":37.0},{"t":2577.5,"v":38.9},
{"t":2582.5,"v":37.0},{"t":2587.5,"v":38.9},{"t":2592.5,"v":37.2},{"t":2597.5,"v":38.5},{"t":2602.5,"v":37.6},{"t":2607.5,"v":36.8},{"t":2612.5,"v":38.9},{"t":2617.5,"v":37.0},{"t":2622.5,"v":38.7},{"t":2627.5,"v":37.3},{"t":2632.5,"v":38.5},{"t":2637.5,"v":36.9},
{"t":2642.5,"v":38.8},{"t":2647.5,"v":36.8},{"t":2652.5,"v":38.6},{"t":2657.5,"v":37.4},{"t":2662.5,"v":38.8},{"t":2667.5,"v":37.5},{"t":2672.5,"v":36.9},{"t":2677.5,"v":38.7},{"t":2682.5,"v":36.8},{"t":2687.5,"v":38.6},{"t":2692.5,"v":37.6},{"t":2697.5,"v":37.2},
{"t":2702.5,"v":37.6},{"t":2707.5,"v":39.7},{"t":2712.5,"v":37.8},{"t":2717.5,"v":39.6},{"t":2722.5,"v":38.2},{"t":2727.5,"v":39.5},{"t":2732.5,"v":37.8},{"t":2737.5,"v":40.0},{"t":2742.5,"v":38.2},{"t":2747.5,"v":39.9},{"t":2752.5,"v":38.7},{"t":2757.5,"v":40.9},
{"t":2762.5,"v":39.0},{"t":2767.5,"v":41.0},{"t":2772.5,"v":39.2},{"t":2777.5,"v":40.9},{"t":2782.5,"v":39.3},{"t":2787.5,"v":40.4},{"t":2792.5,"v":41.2},{"t":2797.5,"v":39.5},{"t":2802.5,"v":40.7},{"t":2807.5,"v":38.8},{"t":2812.5,"v":40.3},{"t":2817.5,"v":38.1},
{"t":2822.5,"v":39.8},{"t":2827.5,"v":38.0},{"t":2832.5,"v":38.8},{"t":2837.5,"v":37.2},{"t":2842.5,"v":39.9},{"t":2847.5,"v":37.9},{"t":2852.5,"v":39.6},{"t":2857.5,"v":37.6},{"t":2862.5,"v":39.4},{"t":2867.5,"v":40.0},{"t":2872.5,"v":38.4},{"t":2877.5,"v":41.0},
{"t":2882.5,"v":47.0},{"t":2887.5,"v":55.0},{"t":2892.5,"v":53.5},{"t":2897.5,"v":45.5},{"t":2902.5,"v":49.5},{"t":2907.5,"v":47.5},{"t":2912.5,"v":59.5},{"t":2917.5,"v":55.5},{"t":2922.5,"v":51.0},{"t":2927.5,"v":42.4},{"t":2932.5,"v":38.3},{"t":2937.5,"v":40.2},
{"t":2942.5,"v":39.6},{"t":2947.5,"v":37.6},{"t":2952.5,"v":40.1},{"t":2957.5,"v":38.9},{"t":2962.5,"v":37.5},{"t":2967.5,"v":38.5},{"t":2972.5,"v":37.4},{"t":2977.5,"v":37.9},{"t":2982.5,"v":37.3},{"t":2987.5,"v":39.8},{"t":2992.5,"v":38.6},{"t":2997.5,"v":37.4},
{"t":3002.5,"v":39.7},{"t":3007.5,"v":38.2},{"t":3012.5,"v":39.3},{"t":3017.5,"v":37.5},{"t":3022.5,"v":37.6},{"t":3027.5,"v":39.9},{"t":3032.5,"v":38.4},{"t":3037.5,"v":40.0},{"t":3042.5,"v":38.6},{"t":3047.5,"v":40.2},{"t":3052.5,"v":39.6},{"t":3057.5,"v":38.7},
{"t":3062.5,"v":40.4},{"t":3067.5,"v":38.6},{"t":3072.5,"v":39.9},{"t":3077.5,"v":38.7},{"t":3082.5,"v":40.3},{"t":3087.5,"v":39.6},{"t":3092.5,"v":38.5},{"t":3097.5,"v":38.8},{"t":3102.5,"v":42.5},{"t":3107.5,"v":50.0},{"t":3112.5,"v":52.5},{"t":3117.5,"v":46.8},
{"t":3122.5,"v":42.2},{"t":3127.5,"v":40.6},{"t":3132.5,"v":38.7},{"t":3137.5,"v":39.9},{"t":3142.5,"v":39.6},{"t":3147.5,"v":38.2},{"t":3152.5,"v":39.5},{"t":3157.5,"v":37.8},{"t":3162.5,"v":38.3},{"t":3167.5,"v":39.8},{"t":3172.5,"v":37.9},{"t":3177.5,"v":38.5},
{"t":3182.5,"v":39.8},{"t":3187.5,"v":38.0},{"t":3192.5,"v":39.9},{"t":3197.5,"v":38.4},{"t":3202.5,"v":40.4},{"t":3207.5,"v":38.8},{"t":3212.5,"v":40.6},{"t":3217.5,"v":39.1},{"t":3222.5,"v":40.5},{"t":3227.5,"v":38.9},{"t":3232.5,"v":40.6},{"t":3237.5,"v":39.5},
{"t":3242.5,"v":39.6},{"t":3247.5,"v":40.6},{"t":3252.5,"v":41.6},{"t":3257.5,"v":40.3},{"t":3262.5,"v":41.4},{"t":3267.5,"v":39.5},{"t":3272.5,"v":40.9},{"t":3277.5,"v":40.3},{"t":3282.5,"v":39.3},{"t":3287.5,"v":40.9},{"t":3292.5,"v":38.9},{"t":3297.5,"v":40.6},
{"t":3302.5,"v":38.8},{"t":3307.5,"v":40.4},{"t":3312.5,"v":39.2},{"t":3317.5,"v":40.5},{"t":3322.5,"v":38.7},{"t":3327.5,"v":39.4},{"t":3332.5,"v":40.4},{"t":3337.5,"v":38.7},{"t":3342.5,"v":40.2},{"t":3347.5,"v":38.6},{"t":3352.5,"v":39.3},{"t":3357.5,"v":40.1},
{"t":3362.5,"v":38.1},{"t":3367.5,"v":40.0},{"t":3372.5,"v":37.9},{"t":3377.5,"v":39.8},{"t":3382.5,"v":38.0},{"t":3387.5,"v":39.5},{"t":3392.5,"v":39.9},{"t":3397.5,"v":37.8},{"t":3402.5,"v":39.6},{"t":3407.5,"v":37.8},{"t":3412.5,"v":38.4},{"t":3417.5,"v":38.9},
{"t":3422.5,"v":37.4},{"t":3427.5,"v":39.5},{"t":3432.5,"v":38.9},{"t":3437.5,"v":37.6},{"t":3442.5,"v":39.5},{"t":3447.5,"v":37.6},{"t":3452.5,"v":39.2},{"t":3457.5,"v":37.5},{"t":3462.5,"v":39.3},{"t":3467.5,"v":37.6},{"t":3472.5,"v":39.1},{"t":3477.5,"v":37.4},
{"t":3482.5,"v":37.5},{"t":3487.5,"v":39.5},{"t":3492.5,"v":41.5},{"t":3497.5,"v":47.0},{"t":3502.5,"v":53.5},{"t":3507.5,"v":52.3},{"t":3512.5,"v":44.5},{"t":3517.5,"v":44.6},{"t":3522.5,"v":40.6},{"t":3527.5,"v":37.8},{"t":3532.5,"v":39.6},{"t":3537.5,"v":37.8},
{"t":3542.5,"v":41.2},{"t":3547.5,"v":48.5},{"t":3552.5,"v":51.0},{"t":3557.5,"v":45.8},{"t":3562.5,"v":40.8},{"t":3567.5,"v":39.2},{"t":3572.5,"v":36.8},{"t":3577.5,"v":38.9},{"t":3582.5,"v":36.9},{"t":3587.5,"v":38.8},{"t":3592.5,"v":37.4},{"t":3597.5,"v":37.7}
]},
"mark": {"type": "line", "color": "#000080", "strokeWidth": 1},
"encoding": {
  "x": {"field": "t", "type": "quantitative",
    "scale": {"domain": [0, 3600], "nice": false, "zero": false},
    "axis": {"title": "Tempo [minuti]", "titleFont": "Liberation Sans", "titleFontSize": 14, "titleFontWeight": "bold", "titleColor": "#000000", "titleX": 591, "titleY": 79, "titleAlign": "center", "titleBaseline": "middle", "titleAnchor": null,
      "tickCount": 720, "tickSize": 4, "tickColor": "#666666", "tickWidth": 1, "grid": false,
      "domainColor": "#000000", "domainWidth": 1,
      "labelAngle": 270, "labelAlign": "right", "labelBaseline": "middle", "labelPadding": 2, "labelFontSize": 11.5, "labelColor": "#000000", "labelOverlap": false, "labelFlush": false, "labelBound": false,
      "labelExpr": "datum.value % 60 == 0 && datum.value < 3600 ? '1.' + (datum.value < 600 ? '0' : '') + (datum.value / 60) + '.00' : ''"}},
  "y": {"field": "v", "type": "quantitative",
    "scale": {"domain": [30, 100], "nice": false, "zero": false},
    "axis": {"title": "Livello [dB(A)]", "titleFont": "Liberation Sans", "titleFontSize": 14, "titleFontWeight": "bold", "titleColor": "#000000", "titleX": -56, "titleY": 179, "titleAngle": 270, "titleAlign": "center", "titleBaseline": "middle", "titleAnchor": null,
      "values": [30, 40, 50, 60, 70, 80, 90, 100], "grid": true, "gridColor": "#404040", "gridWidth": 1, "gridOpacity": 1,
      "tickSize": 5, "tickColor": "#000000", "domainColor": "#000000", "domainWidth": 1,
      "labelFontSize": 13, "labelColor": "#000000", "labelPadding": 8}}
}
},
{
"data": {"values": [{}]},
"mark": {"type": "rect", "fill": "#e0e0e0", "stroke": "#00008c", "strokeWidth": 3},
"encoding": {"x": {"datum": 3677.9, "type": "quantitative"}, "x2": {"datum": 3850}, "y": {"datum": 41.0, "type": "quantitative"}, "y2": {"datum": 8}}
},
{
"data": {"values": [{}]},
"mark": {"type": "rect", "fill": null, "fillOpacity": 0, "stroke": "#00008c", "strokeWidth": 3},
"encoding": {"x": {"datum": -216.2, "type": "quantitative"}, "x2": {"datum": 3850}, "y": {"datum": 108.4, "type": "quantitative"}, "y2": {"datum": 8}}
},
{
"data": {"values": [{}]},
"mark": {"type": "rule", "color": "#00008c", "strokeWidth": 3},
"encoding": {"x": {"datum": 3677.9, "type": "quantitative"}, "y": {"datum": 108.4, "type": "quantitative"}, "y2": {"datum": 8}}
},
{
"data": {"values": [{}]},
"mark": {"type": "text", "text": "42,2", "angle": 270, "font": "DejaVu Sans", "fontWeight": "bold", "fontSize": 21, "color": "#3a3ac8", "align": "center", "baseline": "middle"},
"encoding": {"x": {"datum": 3741.9, "type": "quantitative"}, "y": {"datum": 75.09, "type": "quantitative"}}
},
{
"data": {"values": [{}]},
"mark": {"type": "text", "text": "L", "angle": 270, "font": "DejaVu Sans", "fontWeight": "bold", "fontSize": 22, "color": "#10108c", "align": "left", "baseline": "alphabetic"},
"encoding": {"x": {"datum": 3758.6, "type": "quantitative"}, "y": {"datum": 12.73, "type": "quantitative"}}
},
{
"data": {"values": [{}]},
"mark": {"type": "text", "text": "eq,h", "angle": 270, "font": "DejaVu Sans", "fontWeight": "bold", "fontSize": 14, "color": "#10108c", "align": "left", "baseline": "alphabetic"},
"encoding": {"x": {"datum": 3766.9, "type": "quantitative"}, "y": {"datum": 15.45, "type": "quantitative"}}
},
{
"data": {"values": [{}]},
"mark": {"type": "text", "text": "[dB(A)]", "angle": 270, "font": "DejaVu Sans", "fontWeight": "bold", "fontSize": 22, "color": "#10108c", "align": "left", "baseline": "alphabetic"},
"encoding": {"x": {"datum": 3758.6, "type": "quantitative"}, "y": {"datum": 22.0, "type": "quantitative"}}
}
]
}
